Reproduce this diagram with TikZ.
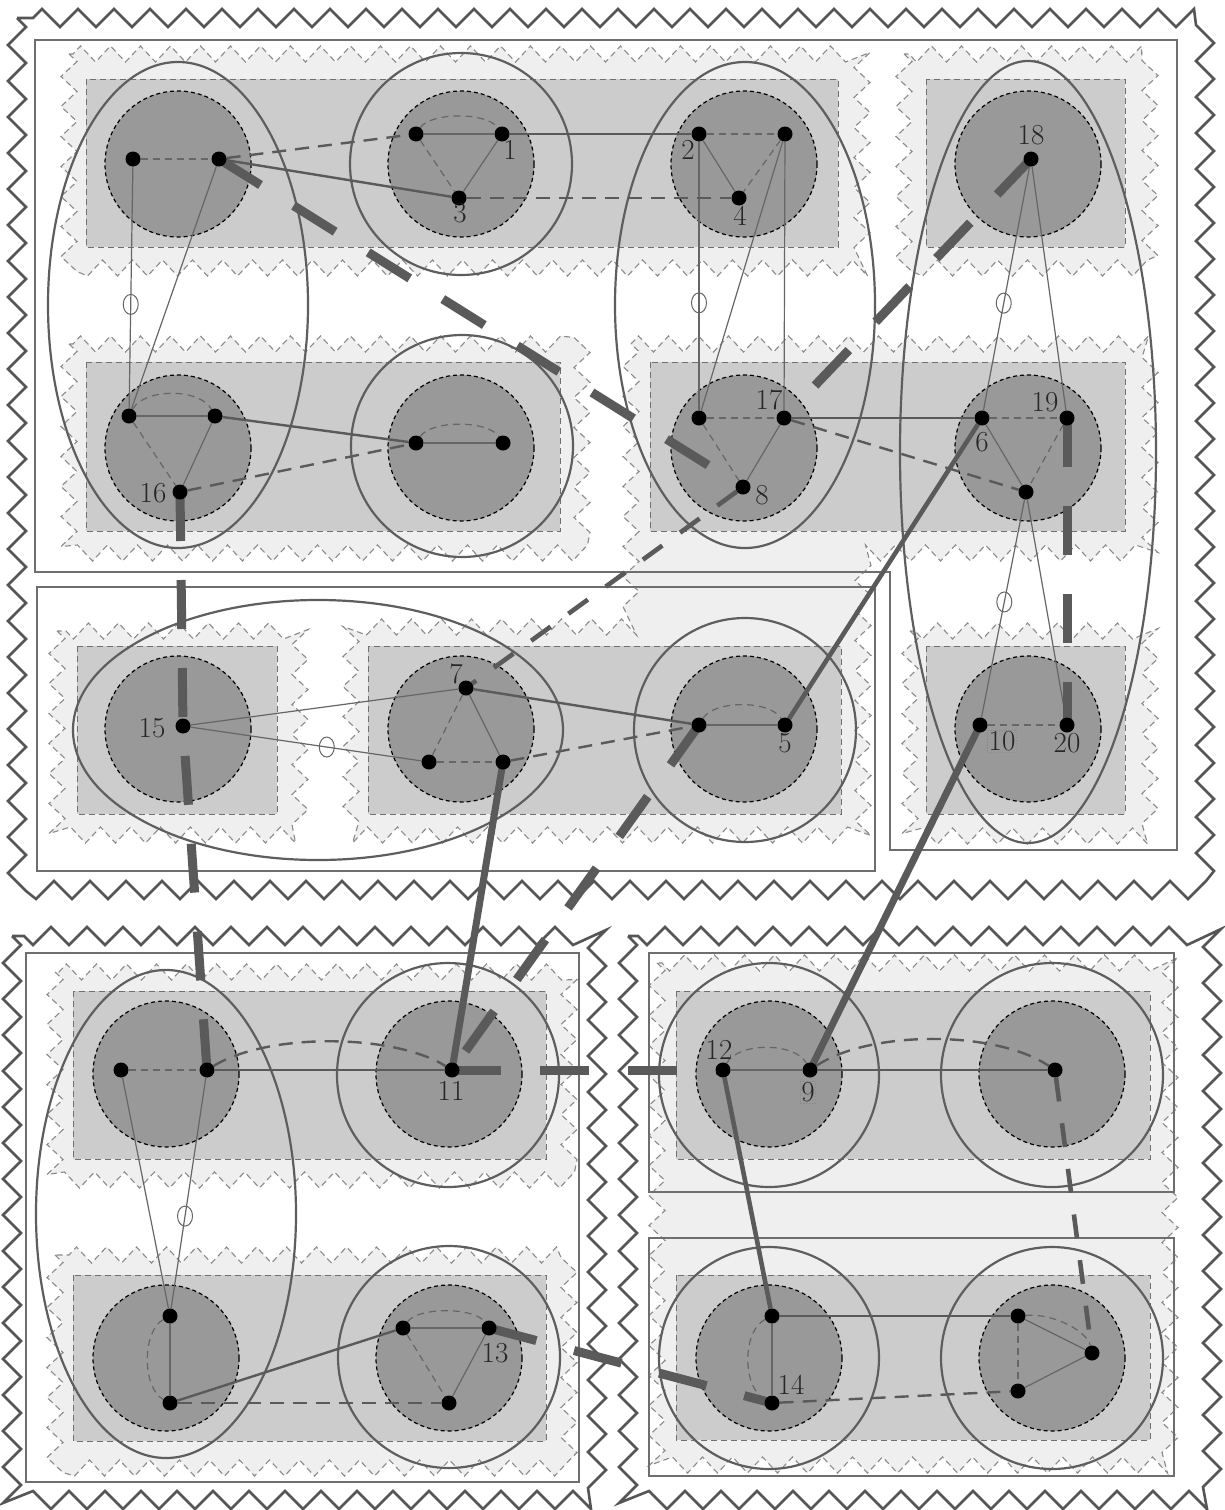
\documentclass[tikz,border=0pt]{standalone}
\usetikzlibrary{decorations.pathmorphing,shapes.geometric}
\pgfdeclarelayer{back}
\pgfdeclarelayer{mid}
\pgfsetlayers{back,mid,main}
\definecolor{zz}{HTML}{555555}
\definecolor{lz}{HTML}{EFEFEF}
\definecolor{lzb}{HTML}{8A8A8A}
\definecolor{rf}{HTML}{CCCCCC}
\definecolor{rb}{HTML}{707070}
\definecolor{cf}{HTML}{999999}
\definecolor{el}{HTML}{5E5E5E}
\definecolor{bx}{HTML}{6E6E6E}
\definecolor{ed}{HTML}{5A5A5A}
\definecolor{te}{HTML}{666666}
\tikzset{
  outerz/.style={draw=zz, line width=2.6pt, decorate, decoration={zigzag, segment length=36pt, amplitude=9pt}},
  lightz/.style={fill=lz, draw=lzb, line width=1.1pt, dash pattern=on 6pt off 4pt, decorate, decoration={zigzag, segment length=30pt, amplitude=8pt}},
  grect/.style={fill=rf, draw=rb, line width=1pt, dash pattern=on 6pt off 4pt},
  dcirc/.style={fill=cf, draw=black, line width=1.2pt, dash pattern=on 4pt off 3pt},
  boxline/.style={draw=bx, line width=2.6pt},
  ell/.style={draw=el, line width=2.2pt},
  dot/.style={circle, fill=black, inner sep=0pt, minimum size=15pt},
  lab/.style={font=\fontsize{29}{32}\selectfont, text=black!85, inner sep=1pt},
  boxed/.style={draw=black!45, dash pattern=on 1.5pt off 1.5pt, line width=0.6pt},
  ethin/.style={draw=te, line width=1.2pt},
  ethindash/.style={draw=te, line width=1.2pt, dash pattern=on 7pt off 5pt},
  emed/.style={draw=ed, line width=2.4pt},
  emeddash/.style={draw=ed, line width=2.4pt, dash pattern=on 14pt off 9pt},
  esemi/.style={draw=ed, line width=4.6pt},
  esemidash/.style={draw=ed, line width=4.6pt, dash pattern=on 24pt off 22pt},
  eheavy/.style={draw=ed, line width=7pt},
  eheavydash/.style={draw=ed, line width=9pt, dash pattern=on 49pt off 39pt},
  omark/.style={ellipse, draw=te, line width=1pt, minimum width=15pt, minimum height=20pt, inner sep=0pt}
}
\begin{document}
\begin{tikzpicture}[x=1pt,y=-1pt]
\useasboundingbox (0,0) rectangle (1225,1510);
\begin{pgfonlayer}{back}
\fill[white] (0,0) rectangle (1225,1510);
% outer zigzag regions
\draw[outerz] (17,18) rectangle (1205,890);
\draw[outerz] (12,936) rectangle (597,1500);
\draw[outerz] (628,936) rectangle (1212,1500);
% light zones
\path[lightz] (69,54) rectangle (862,268);
\path[lightz] (904,54) rectangle (1150,268);
\path[lightz] (69,344) rectangle (582,553);
\path[lightz] (631,344) -- (1150,344) -- (1150,553) -- (863,553) -- (863,835) -- (351,835) -- (351,627) -- (631,627) -- cycle;
\path[lightz] (57,631) rectangle (300,835);
\path[lightz] (910,631) rectangle (1150,836);
\path[lightz] (55,972) rectangle (569,1180);
\path[lightz] (55,1255) rectangle (569,1468);
\path[lightz] (657,963) rectangle (1170,1465);
% gray rectangles
\path[grect] (86,79) rectangle (838,247);
\path[grect] (926,79) rectangle (1125,247);
\path[grect] (86,362) rectangle (560,531);
\path[grect] (650,362) rectangle (1125,531);
\path[grect] (77,646) rectangle (277,814);
\path[grect] (368,646) rectangle (841,814);
\path[grect] (926,646) rectangle (1125,814);
\path[grect] (73,991) rectangle (546,1159);
\path[grect] (73,1275) rectangle (546,1441);
\path[grect] (676,991) rectangle (1150,1159);
\path[grect] (676,1275) rectangle (1150,1440);
% dark circles
\foreach \cx/\cy in {178/164, 461/164, 744/164, 1028/164, 178/448, 461/448, 744/448, 1028/448, 178/729, 461/729, 744/729, 1028/729, 166/1074, 449/1074, 166/1358, 449/1358, 769/1074, 1052/1074, 769/1358, 1052/1358}
  \path[dcirc] (\cx,\cy) circle[radius=73];
% boxes
\draw[boxline] (35,40) -- (1177,40) -- (1177,850) -- (890,850) -- (890,572) -- (35,572) -- cycle;
\draw[boxline] (37,587) rectangle (875,871);
\draw[boxline] (26,953) rectangle (579,1482);
\draw[boxline] (649,953) rectangle (1174,1192);
\draw[boxline] (649,1238) rectangle (1174,1476);
% ellipses
\draw[ell] (178,305) ellipse[x radius=130, y radius=243];
\draw[ell] (461,164) ellipse[x radius=111, y radius=111];
\draw[ell] (745,305) ellipse[x radius=130, y radius=243];
\draw[ell] (1028,452) ellipse[x radius=128, y radius=391];
\draw[ell] (462,446) ellipse[x radius=111, y radius=111];
\draw[ell] (318,730) ellipse[x radius=245, y radius=130];
\draw[ell] (745,730) ellipse[x radius=111, y radius=112];
\draw[ell] (166,1214) ellipse[x radius=130, y radius=244];
\draw[ell] (448,1075) ellipse[x radius=111, y radius=112];
\draw[ell] (449,1357) ellipse[x radius=111, y radius=111];
\draw[ell] (769,1075) ellipse[x radius=110, y radius=112];
\draw[ell] (1052,1075) ellipse[x radius=111, y radius=112];
\draw[ell] (769,1358) ellipse[x radius=110, y radius=111];
\draw[ell] (1052,1358) ellipse[x radius=111, y radius=111];
\end{pgfonlayer}
% nodes
\foreach \nm/\px/\py in {a/133/159, b/219/159, p/416/134, n1/502/134, n3/459/198, n2/699/134, q/785/134, n4/739/198, n18/1031/159,
  r/129/416, s/215/416, n16/180/492, t/416/443, u/503/443, v/699/418, n17/784/418, n8/743/487, n6/982/418, n19/1067/418, w/1026/492,
  n15/183/726, n7/466/688, xx/429/762, yy/503/762, z/699/725, n5/785/725, n10/980/725, n20/1067/725,
  aa/121/1070, bb/207/1070, n11/452/1070, cc/170/1316, dd/170/1403, ee/403/1328, n13/489/1328, ff/449/1403,
  n12/723/1070, n9/810/1070, gg/1055/1070, hh/772/1316, n14/772/1403, ii/1018/1316, jj/1092/1353, kk/1018/1391}
  \node[dot] (\nm) at (\px,\py) {};
% labels
\node[lab] (l1) at (510,150) {1};
\node[lab] (l2) at (688,150) {2};
\node[lab] (l3) at (460,213) {3};
\node[lab] (l4) at (740,216) {4};
\node[lab] (l18) at (1031,135) {18};
\node[lab] (l16) at (153,493) {16};
\node[lab] (l17) at (769,400) {17};
\node[lab] (l8) at (762,495) {8};
\node[lab] (l6) at (982,442) {6};
\node[lab] (l19) at (1045,402) {19};
\node[lab] (l7) at (456,674) {7};
\node[lab] (l15) at (152,728) {15};
\node[lab] (l5) at (785,743) {5};
\node[lab, boxed] (l10) at (1002,741) {10};
\node[lab] (l20) at (1067,743) {20};
\node[lab] (l11) at (451,1091) {11};
\node[lab] (l12) at (719,1050) {12};
\node[lab, boxed] (l9) at (808,1092) {9};
\node[lab] (l13) at (495,1353) {13};
\node[lab] (l14) at (791,1385) {14};
\begin{pgfonlayer}{mid}
% internal thin edges
\draw[ethindash] (a) -- (b);
\draw[ethin] (p) -- (n1); \draw[ethin] (n1) -- (n3); \draw[ethindash] (p) -- (n3);
\draw[ethindash] (p) .. controls +(15,-22) and +(-15,-22) .. (n1);
\draw[ethindash] (n2) -- (q); \draw[ethin] (n2) -- (n4); \draw[ethindash] (q) -- (n4);
\draw[ethin] (r) -- (s); \draw[ethin] (s) -- (n16); \draw[ethindash] (r) -- (n16);
\draw[ethindash] (r) .. controls +(15,-28) and +(-15,-28) .. (s);
\draw[ethin] (t) -- (u);
\draw[ethindash] (t) .. controls +(15,-23) and +(-15,-23) .. (u);
\draw[ethindash] (v) -- (n17); \draw[ethin] (n17) -- (n8); \draw[ethindash] (v) -- (n8);
\draw[ethindash] (n6) -- (n19); \draw[ethin] (n6) -- (w); \draw[ethindash] (n19) -- (w);
\draw[ethindash] (n7) -- (xx); \draw[ethin] (n7) -- (yy); \draw[ethindash] (xx) -- (yy);
\draw[ethin] (z) -- (n5);
\draw[ethindash] (z) .. controls +(15,-25) and +(-15,-25) .. (n5);
\draw[ethindash] (n10) -- (n20);
\draw[ethindash] (aa) -- (bb);
\draw[ethin] (cc) -- (dd);
\draw[ethindash] (cc) .. controls +(-28,15) and +(-28,-15) .. (dd);
\draw[ethin] (ee) -- (n13); \draw[ethin] (n13) -- (ff); \draw[ethindash] (ee) -- (ff);
\draw[ethindash] (ee) .. controls +(15,-21) and +(-15,-21) .. (n13);
\draw[ethin] (n12) -- (n9);
\draw[ethindash] (n12) .. controls +(15,-28) and +(-15,-28) .. (n9);
\draw[ethin] (hh) -- (n14);
\draw[ethindash] (hh) .. controls +(-30,15) and +(-30,-15) .. (n14);
\draw[ethin] (ii) -- (jj); \draw[ethin] (jj) -- (kk); \draw[ethindash] (ii) -- (kk);
\draw[ethindash] (ii) .. controls +(35,-3) and +(-5,-22) .. (jj);
% thin inter edges with markers
\draw[ethin] (a) -- node[omark, pos=0.57] (o1) {} (r);
\draw[ethin] (b) -- (r);
\draw[ethin] (n2) -- node[omark, pos=0.6] (o2) {} (v);
\draw[ethin] (q) -- (v);
\draw[ethin] (q) -- (n17);
\draw[ethin] (n18) -- node[omark, pos=0.56] (o3) {} (n6);
\draw[ethin] (n18) -- (n19);
\draw[ethin] (w) -- node[omark, pos=0.47] (o4) {} (n10);
\draw[ethin] (w) -- (n20);
\draw[ethin] (n15) -- (n7);
\draw[ethin] (n15) -- node[omark, pos=0.59] (o5) {} (xx);
\draw[ethin] (aa) -- (cc);
\draw[ethin] (bb) -- node[omark, pos=0.6] (o6) {} (cc);
% medium edges
\draw[emed] (b) -- (n3);
\draw[emeddash] (b) -- (p);
\draw[emed] (n1) -- (n2);
\draw[emeddash] (n3) -- (n4);
\draw[emed] (s) -- (t);
\draw[emeddash] (n16) -- (t);
\draw[emed] (n17) -- (n6);
\draw[emeddash] (n17) -- (w);
\draw[emed] (n7) -- (z);
\draw[emeddash] (yy) -- (z);
\draw[emed] (bb) -- (n11);
\draw[emeddash] (bb) .. controls +(60,-37) and +(-60,-37) .. (n11);
\draw[emed] (dd) -- (ee);
\draw[emeddash] (dd) -- (ff);
\draw[emed] (n9) -- (gg);
\draw[emeddash] (n9) .. controls +(60,-40) and +(-60,-40) .. (gg);
\draw[emed] (hh) -- (ii);
\draw[emeddash] (n14) -- (kk);
% semi-thick edges
\draw[esemi] (n6) -- (n5);
\draw[esemi] (n12) -- (hh);
\draw[esemidash] (n8) -- (n7);
\draw[esemidash] (gg) -- (jj);
% heavy edges
\draw[eheavy] (n10.center) -- (n9.center);
\draw[eheavy] (yy.center) -- (n11.center);
\draw[eheavydash] (b.center) -- (n8.center);
\draw[eheavydash] (n18.center) -- (n17.center);
\draw[eheavydash] (n16.center) -- (n15.center) -- (bb.center);
\draw[eheavydash] (n19.center) -- (n20.center);
\draw[eheavydash] (z.center) -- (n11.center);
\draw[eheavydash] (n11.center) -- (n12.center);
\draw[eheavydash] (n13.center) -- (n14.center);
\end{pgfonlayer}
\end{tikzpicture}
\end{document}
